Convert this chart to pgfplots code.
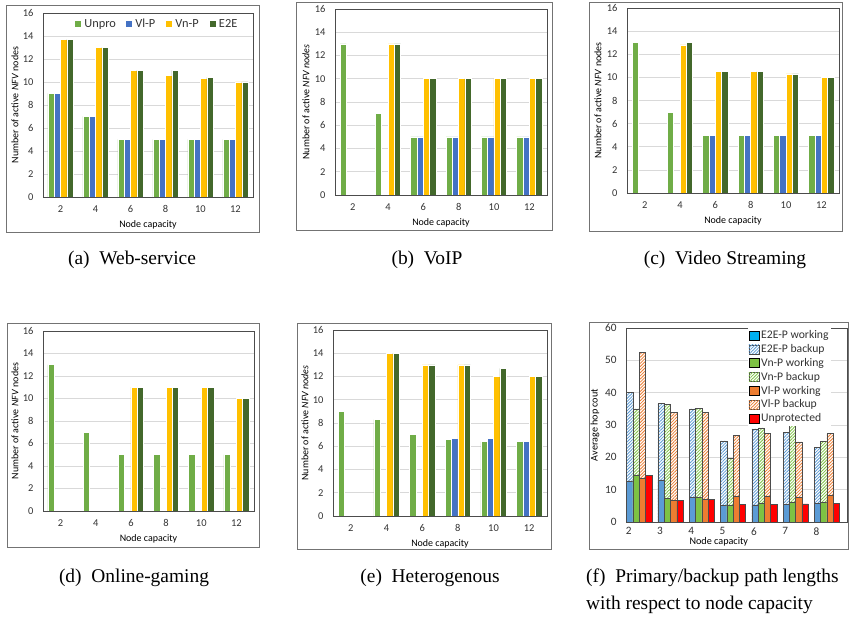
\documentclass[border=0pt]{standalone}
\usepackage{fontspec}
\setmainfont{Carlito}
\newfontfamily\capfont{Liberation Serif}
\usepackage{pgfplots}
\pgfplotsset{compat=1.18}
\usetikzlibrary{patterns.meta}

\definecolor{cUnpro}{HTML}{70AD47}
\definecolor{cVl}{HTML}{4472C4}
\definecolor{cVn}{HTML}{FFC000}
\definecolor{cE2E}{HTML}{43682B}
\definecolor{fBlue}{HTML}{5B9BD5}
\definecolor{fCyan}{HTML}{00B0F0}
\definecolor{fGreen}{HTML}{7DC243}
\definecolor{fOrange}{HTML}{ED7D31}
\definecolor{fRed}{HTML}{FF0000}
\definecolor{gridc}{HTML}{D9D9D9}

\newcommand\lf{\fontsize{12.4}{14}\selectfont}
\newcommand\legtxt[2]{\hspace*{2.7bp}\makebox[#1bp][l]{\lf #2}}

\pgfplotsset{
  base/.style={
    scale only axis, anchor=south west,
    major tick length=0pt,
    ymajorgrids, grid style={gridc, line width=0.6bp},
    axis line style={black!70, line width=0.6bp},
    tick label style={font=\fontsize{10.5}{12}\selectfont, text=black!80},
    /pgf/number format/assume math mode=true,
    yticklabel style={xshift=-6bp},
    xticklabel style={yshift=-5bp},
    label style={font=\fontsize{10.6}{12}\selectfont, text=black!80},
    xlabel={Node capacity},
    every axis x label/.style={at={(axis description cs:0.5,0)},anchor=center,yshift=-28bp},
  },
  nfv/.style={
    base,
    xmin=-0.5, xmax=5.5, ymin=0, ymax=16,
    ytick={0,2,...,16}, xtick={0,1,2,3,4,5}, xticklabels={2,4,6,8,10,12},
    ylabel={Number of active \textit{NFV} nodes},
    every axis y label/.style={at={(axis description cs:#1,0.5)},rotate=90,anchor=center},
  },
  sqleg/.style={legend image code/.code={\fill[##1] (0bp,-3.5bp) rectangle (7bp,3.5bp);}},
  barA/.style={ybar, bar width=6.3bp, bar shift=#1, draw=white, line width=0.5bp, sqleg},
  sUn/.style={barA=-9.45bp, fill=cUnpro},
  sVl/.style={barA=-3.15bp, fill=cVl},
  sVn/.style={barA=3.15bp, fill=cVn},
  sE2E/.style={barA=9.45bp, fill=cE2E},
  bkp/.style={fill=white, draw=black!70, line width=0.5bp,
    postaction={pattern={Lines[angle=45,distance=2.2bp,line width=0.8bp]}, pattern color=#1}},
  wrk/.style={fill=#1, draw=black!70, line width=0.5bp},
  fbar/.style={ybar, forget plot, bar width=6.3bp, bar shift=#1},
}

\begin{document}
\begin{tikzpicture}
\path[use as bounding box] (0,0) rectangle (849bp,621bp);

% frames
\draw[black!55, line width=0.8bp] (6bp,389bp) rectangle (259bp,616bp);
\draw[black!55, line width=0.8bp] (296bp,391bp) rectangle (552bp,619bp);
\draw[black!55, line width=0.8bp] (589bp,390bp) rectangle (842bp,619bp);
\draw[black!55, line width=0.8bp] (7bp,74bp) rectangle (259bp,298bp);
\draw[black!55, line width=0.8bp] (297bp,72bp) rectangle (551bp,298bp);
\draw[black!55, line width=0.8bp] (589bp,72bp) rectangle (848bp,299bp);

% (a) Web-service
\begin{axis}[nfv=-0.133, at={(43bp,424bp)}, width=210bp, height=184bp,
  legend columns=4,
  legend style={at={(axis description cs:0.1476,0.939)}, anchor=west, draw=none, fill=none,
    font=\lf, text=black!80, inner sep=0pt, column sep=0pt,
    nodes={inner sep=0pt, font=\lf}}]
\addplot[sUn] coordinates {(0,9) (1,7) (2,5) (3,5) (4,5) (5,5)};
\addlegendentry{\legtxt{40.7}{Unpro}}
\addplot[sVl] coordinates {(0,9) (1,7) (2,5) (3,5) (4,5) (5,5)};
\addlegendentry{\legtxt{30}{Vl-P}}
\addplot[sVn] coordinates {(0,13.7) (1,13) (2,11) (3,10.6) (4,10.3) (5,10)};
\addlegendentry{\legtxt{33.3}{Vn-P}}
\addplot[sE2E] coordinates {(0,13.7) (1,13) (2,11) (3,11) (4,10.4) (5,10)};
\addlegendentry{\legtxt{17}{E2E}}
\end{axis}

% (b) VoIP
\begin{axis}[nfv=-0.137, at={(335bp,426bp)}, width=212bp, height=186bp,
  ylabel={Number of active \textit{NFV nodes}}]
\addplot[sUn] coordinates {(0,13) (1,7) (2,5) (3,5) (4,5) (5,5)};
\addplot[sVl] coordinates {(2,5) (3,5) (4,5) (5,5)};
\addplot[sVn] coordinates {(1,13) (2,10) (3,10) (4,10) (5,10)};
\addplot[sE2E] coordinates {(1,13) (2,10) (3,10) (4,10) (5,10)};
\end{axis}

% (c) Video Streaming
\begin{axis}[nfv=-0.137, at={(627bp,428bp)}, width=212bp, height=185bp]
\addplot[sUn] coordinates {(0,13) (1,7) (2,5) (3,5) (4,5) (5,5)};
\addplot[sVl] coordinates {(2,5) (3,5) (4,5) (5,5)};
\addplot[sVn] coordinates {(1,12.8) (2,10.5) (3,10.5) (4,10.3) (5,10)};
\addplot[sE2E] coordinates {(1,13) (2,10.5) (3,10.5) (4,10.3) (5,10)};
\end{axis}

% (d) Online-gaming
\begin{axis}[nfv=-0.133, at={(43bp,110bp)}, width=211bp, height=180bp]
\addplot[sUn] coordinates {(0,13) (1,7) (2,5) (3,5) (4,5) (5,5)};
\addplot[sVn] coordinates {(2,11) (3,11) (4,11) (5,10)};
\addplot[sE2E] coordinates {(2,11) (3,11) (4,11) (5,10)};
\end{axis}

% (e) Heterogenous
\begin{axis}[nfv=-0.131, at={(333bp,105bp)}, width=214bp, height=186bp,
  ylabel={Number of active \textit{NFV nodes}}]
\addplot[sUn] coordinates {(0,9) (1,8.3) (2,7) (3,6.6) (4,6.4) (5,6.4)};
\addplot[sVl] coordinates {(3,6.7) (4,6.7) (5,6.4)};
\addplot[sVn] coordinates {(1,14) (2,13) (3,13) (4,12) (5,12)};
\addplot[sE2E] coordinates {(1,14) (2,13) (3,13) (4,12.7) (5,12)};
\end{axis}

% (f) path lengths
\begin{axis}[base, at={(626bp,99bp)}, width=221bp, height=194bp,
  xmin=-0.42, xmax=6.64, ymin=0, ymax=60, ytick={0,10,...,60},
  xtick={0,1,2,3,4,5,6}, xticklabels={2,3,4,5,6,7,8},
  tick label style={font=\fontsize{11.3}{13}\selectfont},
  xticklabel style={xshift=-10.5bp, yshift=3bp},
  ylabel={Average hop cout},
  every axis y label/.style={at={(axis description cs:-0.14,0.5)},rotate=90,anchor=center},
  every axis x label/.style={at={(axis description cs:0.42,0)},anchor=center,yshift=-20bp},
  label style={font=\fontsize{10.2}{12}\selectfont},
  legend cell align=left,
  legend image code/.code={\draw[#1] (0bp,-4.5bp) rectangle (10bp,4.5bp);},
  legend style={at={(axis description cs:0.552,1)}, anchor=north west, draw=none, fill=white,
    font=\fontsize{11.7}{13}\selectfont, text=black!80, inner sep=0.5bp,
    nodes={inner ysep=2.1bp, inner xsep=2bp, font=\fontsize{11.7}{13}\selectfont}}]
\addlegendimage{fill=fCyan, draw=none}
\addlegendentry{E2E-P working}
\addlegendimage{bkp=fBlue, draw=none}
\addlegendentry{E2E-P backup}
\addlegendimage{fill=fGreen, draw=none}
\addlegendentry{Vn-P working}
\addlegendimage{bkp=fGreen, draw=none}
\addlegendentry{Vn-P backup}
\addlegendimage{fill=fOrange, draw=none}
\addlegendentry{Vl-P working}
\addlegendimage{bkp=fOrange, draw=none}
\addlegendentry{Vl-P backup}
\addlegendimage{fill=fRed, draw=none}
\addlegendentry{Unprotected}
% E2E-P: backup (top of stack) then working
\addplot[fbar=-9.45bp, bkp=fBlue] coordinates {(0,40.2) (1,36.8) (2,35.0) (3,25.1) (4,28.8) (5,27.8) (6,23.0)};
\addplot[fbar=-9.45bp, wrk=fBlue] coordinates {(0,12.7) (1,13.0) (2,7.5) (3,5.2) (4,5.3) (5,5.5) (6,5.8)};
% Vn-P
\addplot[fbar=-3.15bp, bkp=fGreen] coordinates {(0,35.0) (1,36.3) (2,35.2) (3,19.7) (4,29.1) (5,30.3) (6,25.0)};
\addplot[fbar=-3.15bp, wrk=fGreen] coordinates {(0,14.5) (1,7.3) (2,7.7) (3,5.2) (4,5.9) (5,6.1) (6,6.0)};
% Vl-P
\addplot[fbar=3.15bp, bkp=fOrange] coordinates {(0,52.4) (1,33.9) (2,33.9) (3,26.7) (4,27.3) (5,24.8) (6,27.5)};
\addplot[fbar=3.15bp, wrk=fOrange] coordinates {(0,13.6) (1,6.6) (2,6.9) (3,7.9) (4,8.0) (5,7.7) (6,8.3)};
% Unprotected
\addplot[fbar=9.45bp, wrk=fRed] coordinates {(0,14.4) (1,6.6) (2,7.0) (3,5.5) (4,5.4) (5,5.6) (6,5.8)};
\end{axis}

% captions
\begin{scope}[every node/.style={font=\capfont\fontsize{19.5}{24}\selectfont, inner sep=0pt}]
\node at (132bp,361bp) {(a)\enspace Web-service};
\node at (427bp,361bp) {(b)\enspace VoIP};
\node at (725bp,361bp) {(c)\enspace Video Streaming};
\node at (134bp,43bp) {(d)\enspace Online-gaming};
\node at (430bp,43bp) {(e)\enspace Heterogenous};
\node[anchor=west] at (586bp,43bp) {(f)\enspace Primary/backup path lengths};
\node[anchor=west] at (586bp,16bp) {with respect to node capacity};
\end{scope}
\end{tikzpicture}
\end{document}
